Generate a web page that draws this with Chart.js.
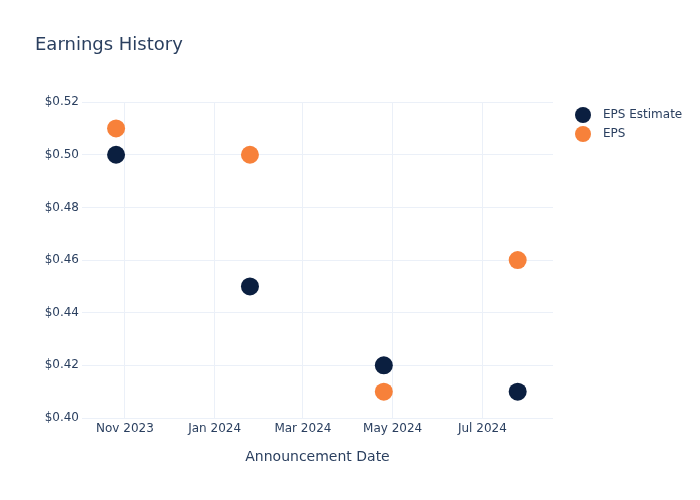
<!DOCTYPE html>
<html>
<head>
<meta charset="utf-8">
<script src="https://cdn.jsdelivr.net/npm/chart.js@4.4.1/dist/chart.umd.min.js"></script>
<style>
  html, body { margin: 0; padding: 0; background: #fff; }
  #wrap { width: 700px; height: 500px; }
</style>
</head>
<body>
<div id="wrap"><canvas id="c" width="700" height="500"></canvas></div>
<script>
const announcementDates = ['2023-10-26', '2024-01-25', '2024-04-25', '2024-07-25'];
const epsEstimate = [0.50, 0.45, 0.42, 0.41];
const epsActual = [0.51, 0.50, 0.41, 0.46];
const xTickDates = ['2023-11-01', '2024-01-01', '2024-03-01', '2024-05-01', '2024-07-01'];
const xTickLabels = ['Nov 2023', 'Jan 2024', 'Mar 2024', 'May 2024', 'Jul 2024'];
const yTicks = [0.40, 0.42, 0.44, 0.46, 0.48, 0.50, 0.52];
const seriesNames = ['EPS Estimate', 'EPS'];
const seriesColors = ['#0b1f40', '#f7813a'];

const ts = s => Date.parse(s + 'T00:00:00Z');
const xTickValues = xTickDates.map(ts);
const textColor = '#2a3f5f';
const gridColor = '#ebf0f8';
const FONT = "'DejaVu Sans', 'Open Sans', sans-serif";

const mk = vals => announcementDates.map((d, i) => ({ x: ts(d), y: vals[i] }));

const customLegend = {
  id: 'customLegend',
  afterDraw(chart) {
    const ctx = chart.ctx;
    ctx.save();
    chart.data.datasets.forEach((ds, i) => {
      const cy = 115 + i * 19;
      ctx.beginPath();
      ctx.arc(583, cy, 8, 0, Math.PI * 2);
      ctx.fillStyle = ds.backgroundColor;
      ctx.fill();
      ctx.fillStyle = textColor;
      ctx.font = '12px ' + FONT;
      ctx.textBaseline = 'middle';
      ctx.textAlign = 'left';
      ctx.fillText(ds.label, 603, cy);
    });
    ctx.restore();
  }
};

new Chart(document.getElementById('c'), {
  type: 'scatter',
  data: {
    datasets: [
      { label: seriesNames[0], data: mk(epsEstimate), backgroundColor: seriesColors[0], borderColor: seriesColors[0], pointRadius: 9, pointHoverRadius: 9, borderWidth: 0 },
      { label: seriesNames[1], data: mk(epsActual), backgroundColor: seriesColors[1], borderColor: seriesColors[1], pointRadius: 9, pointHoverRadius: 9, borderWidth: 0 }
    ]
  },
  options: {
    responsive: false,
    animation: false,
    layout: { padding: { left: 35, right: 147, top: 0, bottom: 0 } },
    plugins: {
      legend: { display: false },
      tooltip: { enabled: false },
      title: {
        display: true,
        text: 'Earnings History',
        align: 'start',
        color: textColor,
        font: { family: FONT, size: 18, weight: 'normal' },
        padding: { top: 35, bottom: 45.5 }
      }
    },
    scales: {
      x: {
        type: 'linear',
        min: Date.UTC(2023, 9, 2, 20),
        max: Date.UTC(2024, 7, 18),
        afterBuildTicks: s => { s.ticks = xTickValues.map(v => ({ value: v })); },
        afterFit: s => { s.height = 82; },
        grid: { color: gridColor, lineWidth: 1, drawTicks: false },
        border: { display: false },
        ticks: {
          padding: 4,
          color: textColor,
          font: { family: FONT, size: 12 },
          maxRotation: 0,
          autoSkip: false,
          callback: v => { const i = xTickValues.indexOf(v); return i >= 0 ? xTickLabels[i] : ''; }
        },
        title: {
          display: true,
          text: 'Announcement Date',
          color: textColor,
          font: { family: FONT, size: 14 },
          padding: { top: 0, bottom: 34 }
        }
      },
      y: {
        min: 0.40,
        max: 0.52,
        afterBuildTicks: s => { s.ticks = yTicks.map(v => ({ value: v })); },
        afterFit: s => { s.width = 47; },
        grid: { color: gridColor, lineWidth: 1, drawTicks: false },
        border: { display: false },
        ticks: {
          padding: 3,
          color: textColor,
          font: { family: FONT, size: 12 },
          callback: v => '$' + Number(v).toFixed(2)
        }
      }
    }
  },
  plugins: [customLegend]
});
</script>
</body>
</html>
